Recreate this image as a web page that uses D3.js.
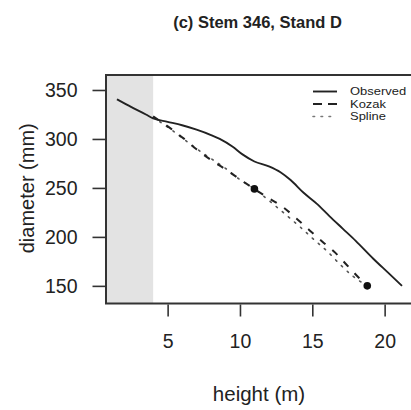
<!DOCTYPE html>
<html>
<head>
<meta charset="utf-8">
<script src="https://cdn.jsdelivr.net/npm/d3@7"></script>
<style>
  html, body { margin: 0; padding: 0; background: #fff; }
  svg { display: block; }
  text { font-family: "Liberation Sans", Arial, Helvetica, sans-serif; fill: #222; }
</style>
</head>
<body>
<svg id="chart" width="411" height="410"></svg>
<script>
// ---- data ----
const title = "(c) Stem 346, Stand D";
const xLabel = "height (m)";
const yLabel = "diameter (mm)";
const xTicks = [5, 10, 15, 20];
const yTicks = [150, 200, 250, 300, 350];
const shadedTo = 4; // shaded region: height below 4 m

const obsHeight = [1.5, 2.5, 3.5, 4.0, 5.0, 6.0, 7.0, 8.0, 8.6, 9.5, 10.2, 11.0, 12.0, 12.8, 13.5, 14.4, 15.3, 16.2, 17.1, 18.0, 19.2, 20.2, 21.2];
const obsDiam   = [340.5, 332.5, 325, 321, 317.5, 314, 309.5, 304, 300, 292, 284, 277, 272, 266, 258, 245, 234, 221, 208.5, 196, 178, 164, 150];

const kozakHeight = [4.0, 5.2, 6.1, 7.0, 8.0, 9.0, 9.9, 11.0, 12.0, 13.0, 13.9, 14.8, 15.7, 16.6, 17.4, 18.2, 18.8];
const kozakDiam   = [323, 310.8, 300.6, 289.4, 278.5, 269, 259.8, 248.8, 239.5, 230.1, 218.9, 206.9, 195, 183.7, 171.1, 158.5, 150];

const splineHeight = [4.0, 5.2, 6.1, 7.0, 8.0, 9.0, 9.9, 11.0, 12.3, 13.2, 14.15, 15.1, 16.0, 16.9, 17.8, 18.8];
const splineDiam   = [322, 310, 300, 290, 280, 270, 259.5, 249, 233.5, 222.3, 210.3, 197.4, 185.8, 172.2, 160, 150];

const knotHeight = [11.0, 18.8];
const knotDiam   = [249, 150];

const legendLabels = ["Observed", "Kozak", "Spline"];

// ---- layout ----
const svg = d3.select("#chart");
const plot = { left: 106, top: 75, right: 414, bottom: 303.5 };

const x = d3.scaleLinear().domain([0.74, 22.03]).range([plot.left, plot.right]);
const y = d3.scaleLinear().domain([132, 365.3]).range([plot.bottom, plot.top]);

svg.append("defs").append("clipPath").attr("id", "clip")
  .append("rect").attr("x", plot.left).attr("y", plot.top)
  .attr("width", plot.right - plot.left).attr("height", plot.bottom - plot.top);

const g = svg.append("g").attr("clip-path", "url(#clip)");

// shaded region
g.append("rect")
  .attr("x", x(x.domain()[0]))
  .attr("y", plot.top)
  .attr("width", x(shadedTo) - x(x.domain()[0]))
  .attr("height", plot.bottom - plot.top)
  .attr("fill", "#e3e3e3");

const line = d3.line().x(d => x(d[0])).y(d => y(d[1])).curve(d3.curveMonotoneX);

const obs = obsHeight.map((h, i) => [h, obsDiam[i]]);
const koz = kozakHeight.map((h, i) => [h, kozakDiam[i]]);
const spl = splineHeight.map((h, i) => [h, splineDiam[i]]);

g.append("path").datum(spl).attr("d", line)
  .attr("fill", "none").attr("stroke", "#555").attr("stroke-width", 1.6)
  .attr("stroke-dasharray", "1.6,6.4").attr("stroke-linecap", "round");

g.append("path").datum(koz).attr("d", line)
  .attr("fill", "none").attr("stroke", "#222").attr("stroke-width", 2)
  .attr("stroke-dasharray", "7,9");

g.append("path").datum(obs).attr("d", line)
  .attr("fill", "none").attr("stroke", "#222").attr("stroke-width", 1.9);

g.selectAll("circle.knot").data(knotHeight).enter().append("circle")
  .attr("class", "knot")
  .attr("cx", d => x(d))
  .attr("cy", (d, i) => y(knotDiam[i]))
  .attr("r", 3.8)
  .attr("fill", "#111");

// box
svg.append("rect")
  .attr("x", plot.left).attr("y", plot.top)
  .attr("width", plot.right - plot.left).attr("height", plot.bottom - plot.top)
  .attr("fill", "none").attr("stroke", "#333").attr("stroke-width", 2);

// axes
const xAxis = svg.append("g").attr("transform", `translate(0,${plot.bottom + 1})`)
  .call(d3.axisBottom(x).tickValues(xTicks).tickSize(12).tickPadding(18).tickFormat(d3.format("d")));
const yAxis = svg.append("g").attr("transform", `translate(${plot.left - 1},0)`)
  .call(d3.axisLeft(y).tickValues(yTicks).tickSize(12.5).tickPadding(15).tickFormat(d3.format("d")));

[xAxis, yAxis].forEach(a => {
  a.select(".domain").remove();
  a.selectAll(".tick line").attr("stroke", "#333").attr("stroke-width", 1.6);
  a.selectAll(".tick text").attr("font-size", 19.5).attr("fill", "#222")
    .attr("font-family", '"Liberation Sans", Arial, sans-serif');
});

// title
svg.append("text").attr("x", 257.5).attr("y", 28)
  .attr("text-anchor", "middle").attr("font-size", 16.5).attr("font-weight", "bold")
  .text(title);

// axis labels
svg.append("text").attr("x", 259).attr("y", 401)
  .attr("text-anchor", "middle").attr("font-size", 20.5)
  .text(xLabel);

svg.append("text")
  .attr("transform", `translate(34,${(plot.top + plot.bottom) / 2 - 1}) rotate(-90)`)
  .attr("text-anchor", "middle").attr("font-size", 20)
  .text(yLabel);

// legend
const legendY = [91.5, 104, 116.5];
const leg = svg.append("g");
const styles = [
  { dash: null, w: 1.9, c: "#222", cap: "butt" },
  { dash: "9,6", w: 2, c: "#222", cap: "butt" },
  { dash: "1.6,6.4", w: 1.6, c: "#777", cap: "round" }
];
legendLabels.forEach((lab, i) => {
  const s = styles[i];
  const ln = leg.append("line").attr("x1", 313).attr("x2", 337)
    .attr("y1", legendY[i]).attr("y2", legendY[i])
    .attr("stroke", s.c).attr("stroke-width", s.w).attr("stroke-linecap", s.cap);
  if (s.dash) ln.attr("stroke-dasharray", s.dash);
  leg.append("text")
    .attr("transform", `translate(350,${legendY[i]}) scale(1.2,1)`)
    .attr("dy", "0.35em")
    .attr("font-size", 10.8).attr("fill", "#333").text(lab);
});
</script>
</body>
</html>
